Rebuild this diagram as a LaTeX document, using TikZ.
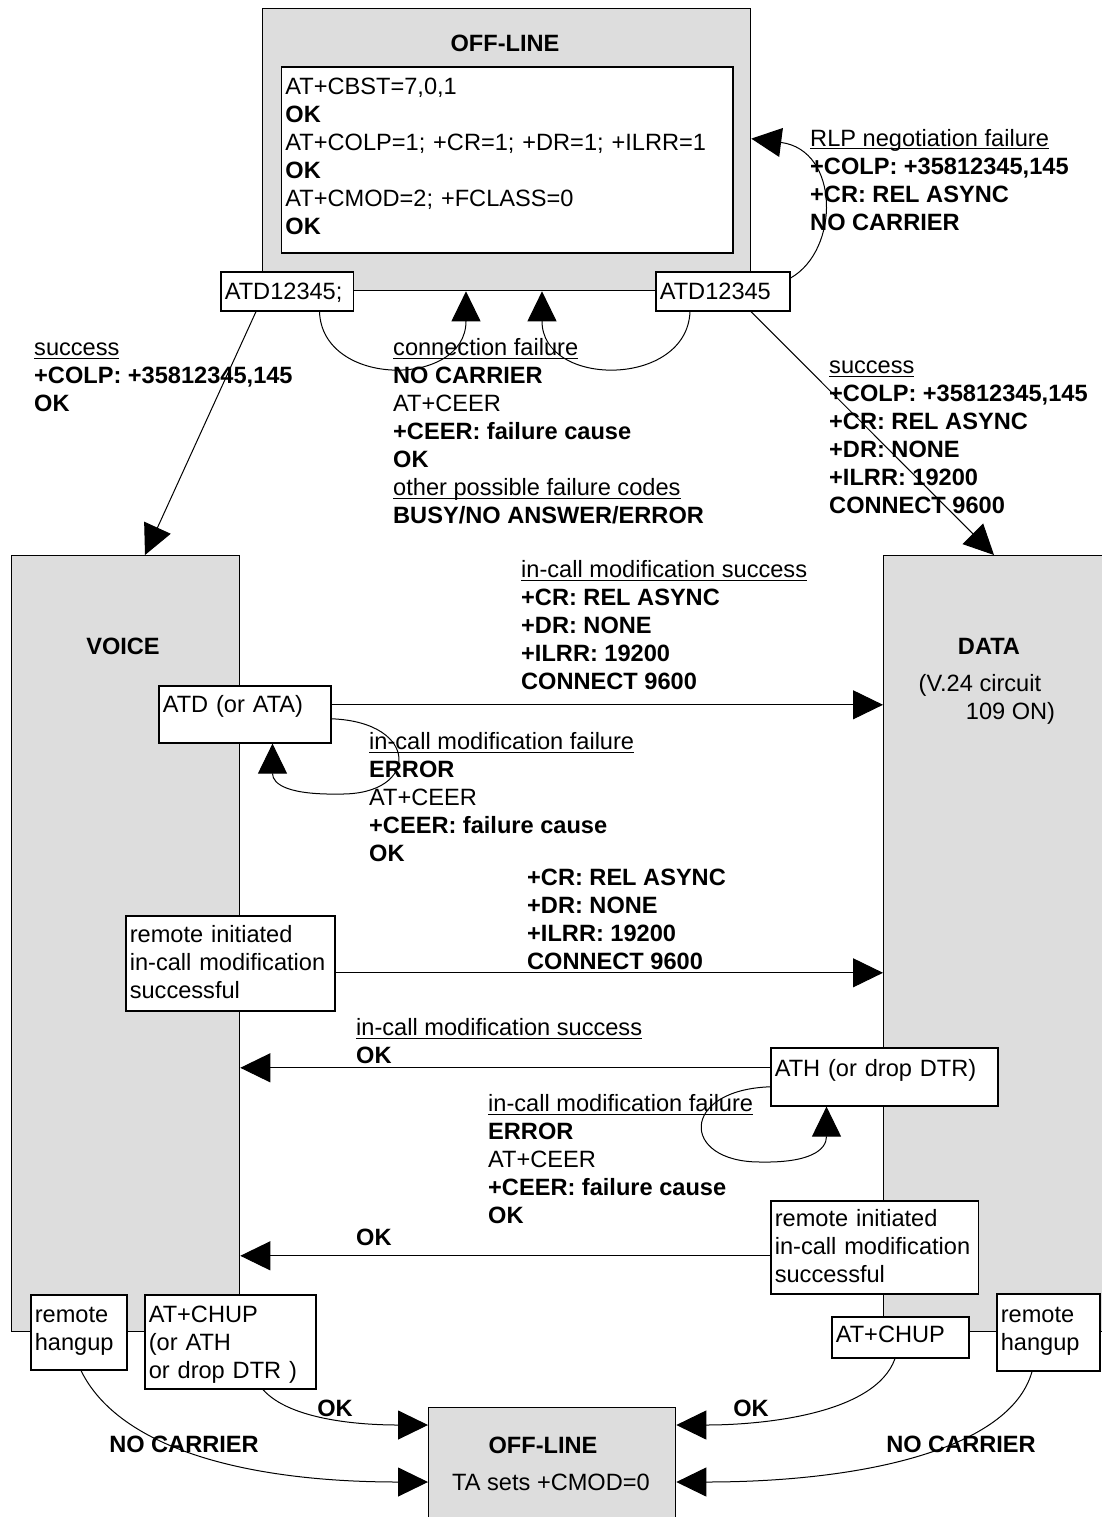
\documentclass[tikz,border=0pt]{standalone}
\usepackage{fontspec}
\setmainfont{Liberation Sans}
\usepackage{tikz}
\usetikzlibrary{arrows.meta}
\definecolor{stategray}{RGB}{221,221,221}
\tikzset{>={Triangle[length=30pt,width=29pt]}}
\newsavebox{\ulinebox}
\newcommand{\ulabel}[1]{\sbox{\ulinebox}{#1}\rlap{\rule[-3pt]{\wd\ulinebox}{1pt}}\usebox{\ulinebox}}
\tikzset{
  statebox/.style={draw, line width=1.3pt, fill=stategray, anchor=north west, inner sep=0pt},
  cmdbox/.style={draw, line width=1.6pt, fill=white, anchor=north west, inner xsep=4pt, inner ysep=0pt, align=left},
  msg/.style={anchor=base west, inner sep=0pt, align=left},
  statename/.style={font=\bfseries},
  link/.style={->, line width=1pt}
}

\begin{document}
\fontsize{23.6}{28}\selectfont
\begin{tikzpicture}[x=1pt, y=-1pt]
                \useasboundingbox (0,0) rectangle (1101,1517);

                % states
                \node[statebox, minimum width=488.5pt, minimum height=282pt] (offtop) at (261.5,8) {};
                \node[statename] (offtoptitle) at (505,43) {OFF-LINE};
                \node[cmdbox, text width=443.4pt, text height=27.5pt, text depth=158.5pt] (setup) at (280.6,66) {AT+CBST=7,0,1\\\textbf{OK}\\AT+COLP=1; +CR=1; +DR=1; +ILRR=1\\\textbf{OK}\\AT+CMOD=2; +FCLASS=0\\\textbf{OK}};

                \node[statebox, minimum width=228.5pt, minimum height=776pt] (voice) at (10.5,555) {};
                \node[statename] (voicetitle) at (123,646) {VOICE};
                \node[statebox, minimum width=230pt, minimum height=776pt] (data) at (883,555) {};
                \node[statename] (datatitle) at (989,646) {DATA};
                \node[msg] (v24) at (918.5,719.5) {(V.24 circuit\\\hspace*{2em}109 ON)};

                \node[statebox, minimum width=247pt, minimum height=125pt] (offbot) at (428,1407) {};
                \node[statename] (offbottitle) at (543,1445) {OFF-LINE};
                \node (cmodzero) at (551,1482) {TA sets +CMOD=0};

                % commands
                \node[cmdbox, text width=124.5pt, text height=27.5pt, text depth=11.5pt] (atdv) at (220,271) {ATD12345;};
                \node[cmdbox, text width=126pt, text height=27.5pt, text depth=11.5pt] (atdd) at (655,271) {ATD12345};
                \node[cmdbox, text width=164pt, text height=26.5pt, text depth=30.5pt] (atda) at (158,685) {ATD (or ATA)};
                \node[cmdbox, text width=201pt, text height=26.5pt, text depth=68.5pt] (rmtv) at (125,915) {remote initiated\\in-call modification\\successful};
                \node[cmdbox, text width=219pt, text height=28.5pt, text depth=29.5pt] (athd) at (770,1047) {ATH (or drop DTR)};
                \node[cmdbox, text width=199.5pt, text height=25.5pt, text depth=67.5pt] (rmtd) at (770,1200) {remote initiated\\in-call modification\\successful};
                \node[cmdbox, text width=88pt, text height=27.5pt, text depth=47.5pt] (hangv) at (30,1294) {remote\\hangup};
                \node[cmdbox, text width=163pt, text height=27.5pt, text depth=66.5pt] (chupv) at (144,1294) {AT+CHUP\\(or ATH\\or drop DTR )};
                \node[cmdbox, text width=129pt, text height=25.5pt, text depth=15.5pt] (chupd) at (831,1316) {AT+CHUP};
                \node[cmdbox, text width=95pt, text height=28.5pt, text depth=48.5pt] (hangd) at (996,1293) {remote\\hangup};

                % responses (placed at the baseline of their last line)
                \node[msg] (rlpfail) at (810,230.5) {\ulabel{RLP negotiation failure}\\\textbf{+COLP: +35812345,145}\\\textbf{+CR: REL ASYNC}\\\textbf{NO CARRIER}};
                \node[msg] (voiceok) at (34,411.5) {\ulabel{success}\\\textbf{+COLP: +35812345,145}\\\textbf{OK}};
                \node[msg] (connfail) at (393,523.5) {\ulabel{connection failure}\\\textbf{NO CARRIER}\\AT+CEER\\\textbf{+CEER: failure cause}\\\textbf{OK}\\\ulabel{other possible failure codes}\\\textbf{BUSY/NO ANSWER/ERROR}};
                \node[msg] (dataok) at (829,513.5) {\ulabel{success}\\\textbf{+COLP: +35812345,145}\\\textbf{+CR: REL ASYNC}\\\textbf{+DR: NONE}\\\textbf{+ILRR: 19200}\\\textbf{CONNECT 9600}};
                \node[msg] (modok) at (521,689.5) {\ulabel{in-call modification success}\\\textbf{+CR: REL ASYNC}\\\textbf{+DR: NONE}\\\textbf{+ILRR: 19200}\\\textbf{CONNECT 9600}};
                \node[msg] (modfail) at (369,861.5) {\ulabel{in-call modification failure}\\\textbf{ERROR}\\AT+CEER\\\textbf{+CEER: failure cause}\\\textbf{OK}};
                \node[msg] (rmtok) at (527,969.5) {\textbf{+CR: REL ASYNC}\\\textbf{+DR: NONE}\\\textbf{+ILRR: 19200}\\\textbf{CONNECT 9600}};
                \node[msg] (backok) at (356,1063.5) {\ulabel{in-call modification success}\\\textbf{OK}};
                \node[msg] (backfail) at (488,1223.5) {\ulabel{in-call modification failure}\\\textbf{ERROR}\\AT+CEER\\\textbf{+CEER: failure cause}\\\textbf{OK}};
                \node[msg] (rmtback) at (356,1245.5) {\textbf{OK}};

                \node[statename] (okv) at (335,1408) {OK};
                \node[statename] (okd) at (751,1408) {OK};
                \node[statename] (nocarv) at (184,1444) {NO CARRIER};
                \node[statename] (nocard) at (961,1444) {NO CARRIER};

                % transitions
                \draw[link] ([xshift=36pt]atdv.south west) -- ([xshift=134.5pt]voice.north west);
                \draw[link] ([xshift=96pt]atdd.south west) -- ([xshift=111pt]data.north west);
                \draw[link] ([xshift=99.5pt]atdv.south west) .. controls (322,388) and (466,388) .. ([xshift=204.5pt]offtop.south west);
                \draw[link] ([xshift=35pt]atdd.south west) .. controls (687,388) and (542,388) .. ([xshift=280.5pt]offtop.south west);
                \draw[link] ([yshift=-7pt]atdd.north east) .. controls (840,250) and (840,150) .. ([yshift=11pt]offtop.east);

                \draw[link] ([yshift=9.5pt]atda.east) coordinate (a1) -- (a1 -| data.west);
                \draw[link] ([yshift=-4.5pt]atda.east) .. controls (420,722) and (420,795) .. (340,794)
                    .. controls (290,795) and (272.5,785) .. ([xshift=114.5pt]atda.south west);
                \draw[link] ([yshift=-9.5pt]rmtv.east) coordinate (a2) -- (a2 -| data.west);
                \draw[link] ([yshift=9pt]athd.west) coordinate (a3) -- (a3 -| voice.east);
                \draw[link] ([yshift=-10pt]athd.west) .. controls (680,1090) and (680,1162) .. (760,1162)
                    .. controls (810,1163) and (826.5,1150) .. ([xshift=56.5pt]athd.south west);
                \draw[link] ([yshift=-8.5pt]rmtd.west) coordinate (a4) -- (a4 -| voice.east);

                \draw[link] ([xshift=51pt]hangv.south west) .. controls (120,1450) and (250,1482) .. ([yshift=-75pt]offbot.north west);
                \draw[link] ([xshift=119pt]chupv.south west) .. controls (290,1420) and (360,1425) .. ([yshift=-18pt]offbot.north west);
                \draw[link] ([xshift=64pt]chupd.south west) .. controls (875,1415) and (760,1425) .. ([yshift=-18pt]offbot.north east);
                \draw[link] ([xshift=36pt]hangd.south west) .. controls (1010,1450) and (860,1482) .. ([yshift=-75pt]offbot.north east);
            \end{tikzpicture}
\end{document}
